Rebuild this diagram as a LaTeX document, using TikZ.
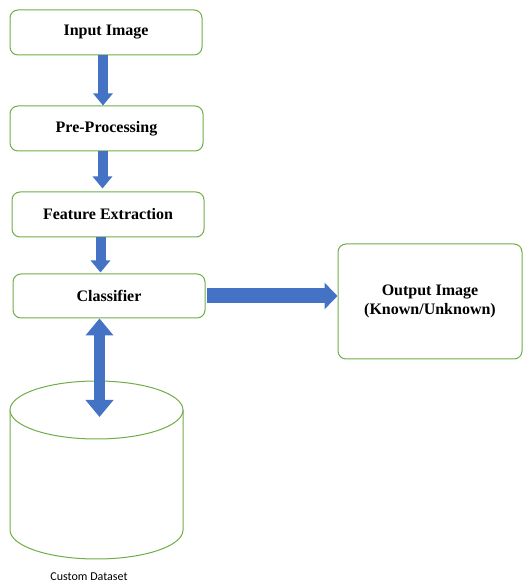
\documentclass[tikz,border=0pt]{standalone}
\usepackage{fontspec}
\setmainfont{Liberation Serif}
\newfontfamily\dsfont{Carlito}
\usepackage{tikz}
\usetikzlibrary{arrows.meta}

\definecolor{boxgreen}{RGB}{112,173,71}
\definecolor{arrowblue}{RGB}{68,114,196}

\tikzset{
	stagebox/.style={shape=rectangle,rounded corners=8pt,draw=boxgreen,line width=1pt,fill=white,
		font=\fontsize{16}{19}\selectfont\bfseries,align=center,inner sep=0pt},
	flow/.style={draw=arrowblue,line width=10pt,-{Triangle[width=19pt,length=12pt]}}
}

\begin{document}
\begin{tikzpicture}[x=1pt,y=1pt]
	\useasboundingbox (0,0) rectangle (525,583);

	\node[stagebox,minimum width=192pt,minimum height=45pt] (input) at (106, 550.5)   {Input Image};
	\node[stagebox,minimum width=193pt,minimum height=45pt] (pre)   at (106.5, 454.5) {Pre-Processing};
	\node[stagebox,minimum width=192pt,minimum height=45pt] (feat)  at (108, 368.5)   {Feature Extraction};
	\node[stagebox,minimum width=192pt,minimum height=44pt] (cls)   at (109, 287)     {Classifier};
	\node[stagebox,minimum width=184pt,minimum height=115pt] (out)  at (430, 281.5)   {Output Image\\(Known/Unknown)};

	% custom dataset drum
	\draw[boxgreen,line width=1pt,fill=white] (10,173) -- (10,53)
		arc[start angle=180,end angle=360,x radius=86.5,y radius=29] -- (183,173);
	\draw[boxgreen,line width=1pt,fill=white] (96.5,173) ellipse [x radius=86.5,y radius=29];
	\coordinate (dbtop) at (99.5,166);
	\node[font=\dsfont\fontsize{12}{14}\selectfont] (dblabel) at (89,6) {Custom Dataset};

	\draw[flow] ([xshift=-3pt]input.south) -- ([xshift=-3pt]input.south |- pre.north);
	\draw[flow] ([xshift=-4pt]pre.south) -- ([xshift=-4pt,yshift=3pt]pre.south |- feat.north);
	\draw[flow] ([xshift=-7.5pt]feat.south) -- ([xshift=-7.5pt,yshift=1pt]feat.south |- cls.north);
	\draw[draw=arrowblue,line width=15pt,-{Triangle[width=26pt,length=13pt]}] ([xshift=1pt]cls.east) -- (cls.east -| out.west);
	\draw[draw=arrowblue,line width=11pt,{Triangle[width=27pt,length=17pt]}-{Triangle[width=27pt,length=17pt]}] ([xshift=-9.5pt]cls.south) -- (dbtop);

\end{tikzpicture}
\end{document}
